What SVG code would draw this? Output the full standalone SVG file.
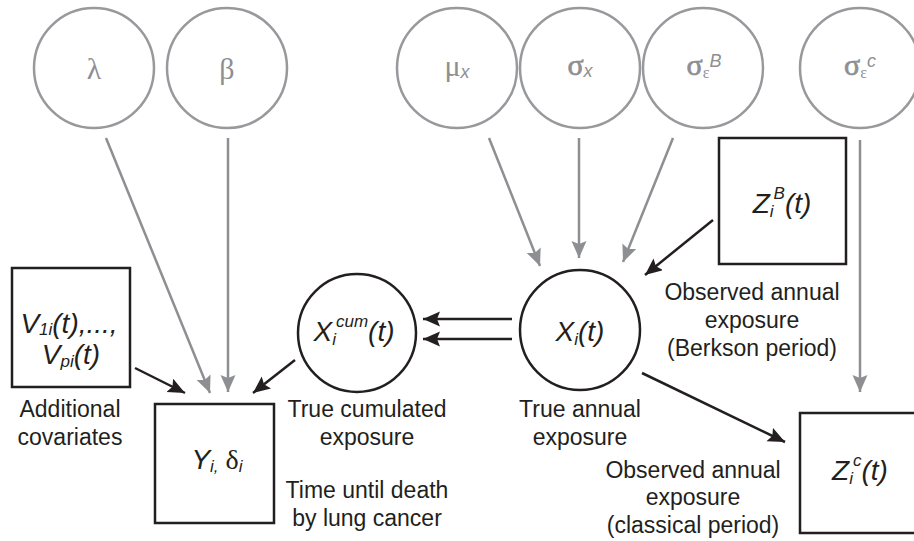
<svg xmlns="http://www.w3.org/2000/svg" width="914" height="541" viewBox="0 0 914 541">
  <style>
    .hyper { fill: none; stroke: #98999c; stroke-width: 2.5; }
    .node { fill: none; stroke: #231f20; stroke-width: 2.5; }
    .greek { font-family: "Liberation Serif", "DejaVu Serif", serif; font-size: 30px; fill: #8e8f92; text-anchor: middle; }
    .heavy { stroke: #8e8f92; stroke-width: 0.7; }
    .sub { font-family: "Liberation Sans", Arial, sans-serif; font-style: italic; font-size: 18px; stroke: none; }
    .math { font-family: "Liberation Sans", Arial, sans-serif; font-style: italic; font-size: 28px; fill: #231f20; text-anchor: middle; }
    .up { font-style: normal; }
    .msub { font-size: 17px; }
    .label { font-family: "Liberation Sans", Arial, sans-serif; font-size: 23px; fill: #231f20; text-anchor: middle; }
    .grey-link { stroke: #8e8f92; stroke-width: 2.5; fill: none; marker-end: url(#ah-grey); }
    .black-link { stroke: #231f20; stroke-width: 2.5; fill: none; marker-end: url(#ah-black); }
  </style>
  <defs>
    <marker id="ah-grey" markerUnits="userSpaceOnUse" markerWidth="18" markerHeight="16" refX="17" refY="7.5" orient="auto">
      <path d="M0,0 L17,7.5 L0,15 L3,7.5 z" fill="#8e8f92"/>
    </marker>
    <marker id="ah-black" markerUnits="userSpaceOnUse" markerWidth="18" markerHeight="16" refX="17" refY="7.5" orient="auto">
      <path d="M0,0 L17,7.5 L0,15 L3,7.5 z" fill="#231f20"/>
    </marker>
  </defs>

  <!-- hyperparameters -->
  <g id="lambda">
    <circle class="hyper" cx="94" cy="68" r="60"/>
    <text class="greek" x="94" y="79">λ</text>
  </g>
  <g id="beta">
    <circle class="hyper" cx="227" cy="68" r="60"/>
    <text class="greek" x="227" y="79">β</text>
  </g>
  <g id="mu-x">
    <circle class="hyper" cx="457" cy="68" r="60"/>
    <text class="greek" x="457" y="76">μ<tspan class="sub" dy="2">x</tspan></text>
  </g>
  <g id="sigma-x">
    <circle class="hyper" cx="580" cy="68" r="60"/>
    <text class="greek" x="580" y="75"><tspan class="heavy">σ</tspan><tspan class="sub" dy="2">x</tspan></text>
  </g>
  <g id="sigma-eps-B">
    <circle class="hyper" cx="703" cy="68" r="60"/>
    <text class="greek" x="704" y="75"><tspan class="heavy">σ</tspan><tspan font-size="16px" dy="3">ε</tspan><tspan class="sub" dy="-11">B</tspan></text>
  </g>
  <g id="sigma-eps-C">
    <circle class="hyper" cx="860" cy="68" r="60"/>
    <text class="greek" x="860" y="75"><tspan class="heavy">σ</tspan><tspan font-size="16px" dy="3">ε</tspan><tspan class="sub" dy="-11">c</tspan></text>
  </g>

  <!-- observed and latent quantities -->
  <g id="covariates">
    <rect class="node" x="12" y="268" width="118" height="119"/>
    <text class="math" x="69" y="333" font-size="27px">V<tspan class="msub" dy="2">1i</tspan><tspan dy="-2">(t),...,</tspan></text>
    <text class="math" x="71" y="364" font-size="27px">V<tspan class="msub" dy="3">pi</tspan><tspan dy="-3">(t)</tspan></text>
    <text class="label" x="70" y="417">Additional</text>
    <text class="label" x="70" y="445">covariates</text>
  </g>
  <g id="outcome">
    <rect class="node" x="155" y="404" width="119" height="119"/>
    <text class="math" x="217" y="469">Y<tspan class="msub" dy="3">i,</tspan><tspan dy="-3" class="up" font-family="Liberation Serif, serif">  δ</tspan><tspan class="msub" dy="3">i</tspan></text>
  </g>
  <g id="cumulated-exposure">
    <circle class="node" cx="357" cy="333" r="59"/>
    <text class="math" x="354" y="341">X<tspan class="msub" dy="4">i</tspan><tspan class="msub" dy="-18">cum</tspan><tspan dy="14">(t)</tspan></text>
    <text class="label" x="367" y="417">True cumulated</text>
    <text class="label" x="367" y="445">exposure</text>
    <text class="label" x="367" y="498">Time until death</text>
    <text class="label" x="367" y="526">by lung cancer</text>
  </g>
  <g id="annual-exposure">
    <circle class="node" cx="580" cy="330" r="60"/>
    <text class="math" x="580" y="341">X<tspan class="msub" dy="4">i</tspan><tspan dy="-4">(t)</tspan></text>
    <text class="label" x="580" y="417">True annual</text>
    <text class="label" x="580" y="445">exposure</text>
  </g>
  <g id="berkson-measure">
    <rect class="node" x="719" y="138" width="127" height="126"/>
    <text class="math" x="782" y="213">Z<tspan class="msub" dy="4">i</tspan><tspan class="msub" dy="-18">B</tspan><tspan dy="14">(t)</tspan></text>
    <text class="label" x="752" y="300">Observed annual</text>
    <text class="label" x="752" y="328">exposure</text>
    <text class="label" x="752" y="356">(Berkson period)</text>
  </g>
  <g id="classical-measure">
    <rect class="node" x="800" y="413" width="120" height="120"/>
    <text class="math" x="860" y="480">Z<tspan class="msub" dy="4">i</tspan><tspan class="msub" dy="-18">c</tspan><tspan dy="14">(t)</tspan></text>
    <text class="label" x="693" y="478">Observed annual</text>
    <text class="label" x="693" y="505">exposure</text>
    <text class="label" x="693" y="533">(classical period)</text>
  </g>

  <!-- connectors -->
  <g id="connectors">
    <line class="grey-link" x1="106" y1="138" x2="210" y2="393"/>
    <line class="grey-link" x1="228" y1="138" x2="228" y2="392"/>
    <line class="grey-link" x1="489" y1="138" x2="540" y2="266"/>
    <line class="grey-link" x1="579" y1="138" x2="579" y2="258"/>
    <line class="grey-link" x1="673" y1="138" x2="623" y2="262"/>
    <line class="grey-link" x1="860" y1="140" x2="860" y2="392"/>
    <line class="black-link" x1="135" y1="368" x2="185" y2="393"/>
    <line class="black-link" x1="295" y1="360" x2="253" y2="393"/>
    <line class="black-link" x1="713" y1="220" x2="645" y2="275"/>
    <line class="black-link" x1="512" y1="319" x2="423" y2="319"/>
    <line class="black-link" x1="512" y1="339" x2="423" y2="339"/>
    <line class="black-link" x1="642" y1="373" x2="785" y2="442"/>
  </g>
</svg>
